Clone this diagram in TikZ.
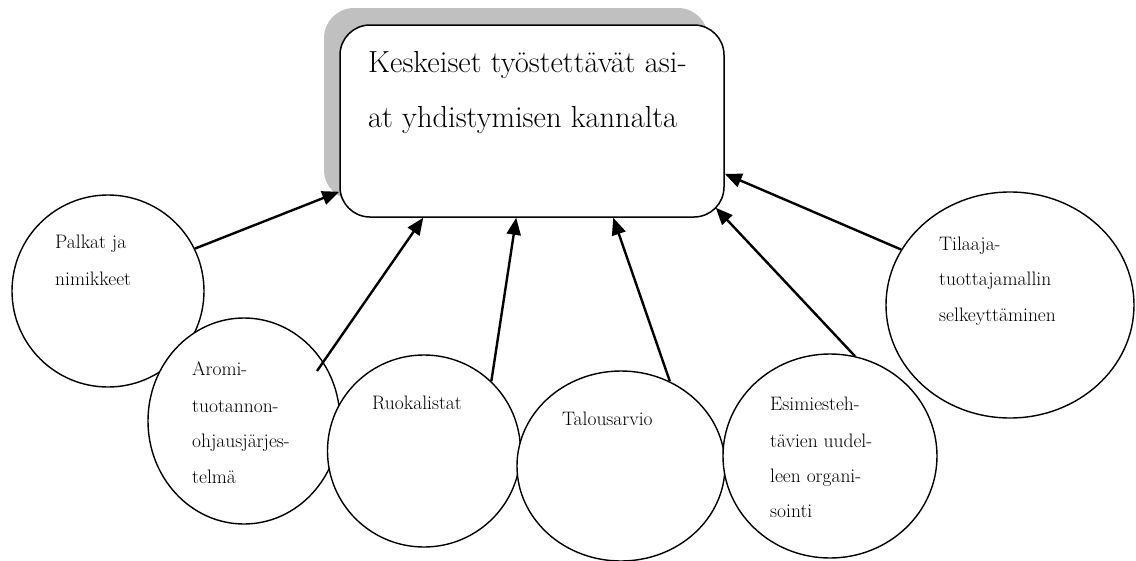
\documentclass[tikz,border=0pt]{standalone}
\usetikzlibrary{shapes.geometric,arrows.meta,calc}
\definecolor{shadowgray}{RGB}{192,192,192}
\begin{document}
\begin{tikzpicture}[x=1pt,y=-1pt,
  bubble/.style={draw=black,line width=1.4pt,fill=white,ellipse,inner sep=0pt},
  mainbox/.style={draw=black,line width=1.5pt,fill=white,rectangle,rounded corners=30pt,
     minimum width=384pt,minimum height=192pt,inner sep=0pt},
  shadowbox/.style={fill=shadowgray,rectangle,rounded corners=30pt,
     minimum width=384pt,minimum height=192pt,inner sep=0pt},
  conn/.style={line width=2.4pt,-{Triangle[length=17pt,width=14pt]}},
  lbl/.style={anchor=base west,inner sep=0pt,font=\fontsize{19.5}{23}\selectfont},
  bigl/.style={anchor=base west,inner sep=0pt,font=\fontsize{30.5}{36}\selectfont}]
\useasboundingbox (0,0) rectangle (1136,560);
% central box with shadow
\node[shadowbox] (shadow) at (516,104) {};
\node[mainbox] (main) at (532,121) {};
\node[bigl] (mt1) at (368,72) {Keskeiset työstettävät asi-};
\node[bigl] (mt2) at (368,127) {at yhdistymisen kannalta};
% bubbles
\node[bubble,minimum width=192pt,minimum height=192pt] (palkat) at (108,291) {};
\node[bubble,minimum width=192pt,minimum height=206pt] (aromi) at (244,421) {};
\node[bubble,minimum width=193pt,minimum height=192pt] (ruoka) at (424,451) {};
\node[bubble,minimum width=208pt,minimum height=190pt] (talous) at (621,466) {};
\node[bubble,minimum width=214pt,minimum height=204pt] (esim) at (830,456) {};
\node[bubble,minimum width=248pt,minimum height=226pt] (tilaaja) at (1010,305) {};
% connector free ends
\coordinate (aromiend) at ($(aromi.center)+(73,-50)$);
% connectors
\draw[conn] (palkat.26) -- ([yshift=26pt]main.south west);
\draw[conn] (aromiend) -- ([xshift=84pt]main.south west);
\draw[conn] (ruoka.46) -- ([xshift=177pt]main.south west);
\draw[conn] (talous.60) -- ([xshift=274pt]main.south west);
\draw[conn] (esim.76) -- ([xshift=-9pt,yshift=10pt]main.south east);
\draw[conn] (tilaaja.153) -- ([yshift=44pt]main.south east);
% labels
\node[lbl] (p1) at (55,248) {Palkat ja};
\node[lbl] (p2) at (55,285) {nimikkeet};
\node[lbl] (a1) at (192,375) {Aromi-};
\node[lbl] (a2) at (192,412) {tuotannon-};
\node[lbl] (a3) at (192,447) {ohjausjärjes-};
\node[lbl] (a4) at (192,483) {telmä};
\node[lbl] (r1) at (372,409) {Ruokalistat};
\node[lbl] (t1) at (562,425) {Talousarvio};
\node[lbl] (e1) at (770,410) {Esimiesteh-};
\node[lbl] (e2) at (770,447) {tävien uudel-};
\node[lbl] (e3) at (770,482) {leen organi-};
\node[lbl] (e4) at (770,517) {sointi};
\node[lbl] (ti1) at (939,250) {Tilaaja-};
\node[lbl] (ti2) at (939,285) {tuottajamallin};
\node[lbl] (ti3) at (939,321) {selkeyttäminen};
\end{tikzpicture}
\end{document}
